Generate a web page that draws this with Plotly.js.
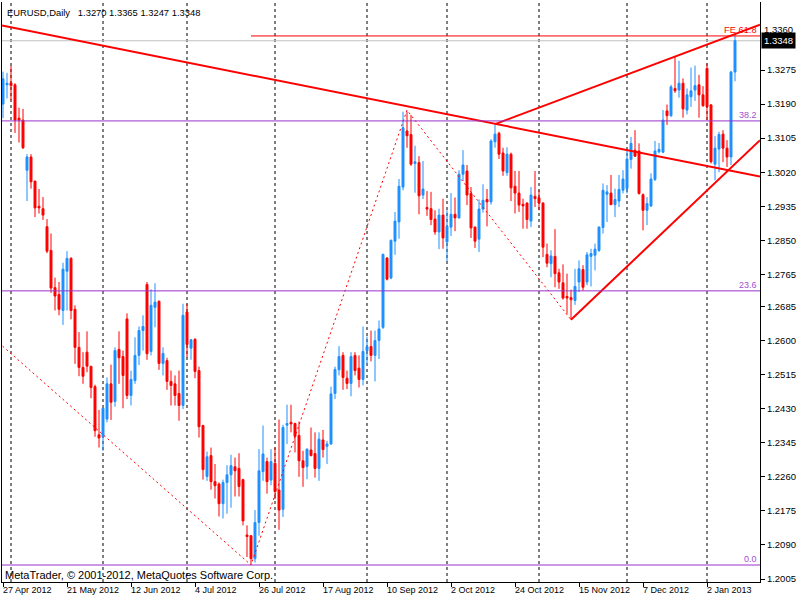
<!DOCTYPE html>
<html>
<head>
<meta charset="utf-8">
<script src="https://cdn.plot.ly/plotly-3.0.1.min.js"></script>
<style>html,body{margin:0;padding:0;background:#fff;}#chart{width:800px;height:600px;}</style>
</head>
<body>
<div id="chart"></div>
<script>
// ---- Data (EURUSD Daily) ----
const opens = [1.3190,1.3238,1.3243,1.3238,1.3155,1.3150,1.3025,1.3058,1.2998,1.2935,1.2929,1.2884,1.2825,1.2732,1.2715,1.2675,1.2773,1.2805,1.2678,1.2583,1.2533,1.2571,1.2536,1.2485,1.2365,1.2360,1.2404,1.2492,1.2448,1.2578,1.2560,1.2654,1.2463,1.2500,1.2563,1.2625,1.2740,1.2573,1.2683,1.2698,1.2543,1.2550,1.2498,1.2492,1.2468,1.2438,1.2671,1.2581,1.2603,1.2525,1.2388,1.2261,1.2313,1.2248,1.2242,1.2193,1.2246,1.2265,1.2285,1.2281,1.2253,1.2115,1.2113,1.2056,1.2146,1.2273,1.2298,1.2252,1.2294,1.2227,1.2179,1.2389,1.2396,1.2393,1.2363,1.2300,1.2286,1.2327,1.2318,1.2281,1.2352,1.2336,1.2342,1.2468,1.2527,1.2563,1.2506,1.2493,1.2563,1.2531,1.2503,1.2575,1.2585,1.2563,1.2600,1.2633,1.2806,1.2756,1.2848,1.2896,1.2983,1.3123,1.3114,1.3042,1.3044,1.2963,1.2932,1.2929,1.2903,1.2871,1.2913,1.2846,1.2883,1.2915,1.2906,1.3015,1.3023,1.2967,1.2883,1.2853,1.2928,1.2952,1.2946,1.3096,1.3117,1.3068,1.3019,1.3065,1.2985,1.2968,1.2940,1.2943,1.2898,1.2960,1.2956,1.2943,1.2815,1.2792,1.2810,1.2769,1.2744,1.2710,1.2707,1.2700,1.2746,1.2777,1.2746,1.2810,1.2813,1.2825,1.2882,1.2965,1.2968,1.2939,1.2948,1.2975,1.2979,1.3052,1.3075,1.3073,1.2964,1.2925,1.2936,1.3002,1.3071,1.3070,1.3173,1.3161,1.3229,1.3225,1.3242,1.3175,1.3208,1.3225,1.3238,1.3213,1.3279,1.3188,1.3040,1.3078,1.3115,1.3080,1.3058,1.3270];
const highs = [1.3271,1.3268,1.3285,1.3242,1.3181,1.3178,1.3065,1.3065,1.2998,1.2978,1.2958,1.2903,1.2867,1.2757,1.2746,1.2794,1.2823,1.2808,1.2688,1.2621,1.2571,1.2623,1.2536,1.2490,1.2427,1.2431,1.2508,1.2540,1.2583,1.2623,1.2575,1.2668,1.2525,1.2608,1.2635,1.2663,1.2746,1.2728,1.2743,1.2700,1.2583,1.2557,1.2525,1.2513,1.2525,1.2692,1.2692,1.2604,1.2606,1.2535,1.2390,1.2323,1.2333,1.2292,1.2246,1.2253,1.2289,1.2315,1.2308,1.2319,1.2255,1.2139,1.2115,1.2177,1.2329,1.2388,1.2308,1.2329,1.2333,1.2403,1.2390,1.2440,1.2440,1.2395,1.2398,1.2325,1.2331,1.2383,1.2371,1.2371,1.2377,1.2350,1.2485,1.2535,1.2586,1.2571,1.2525,1.2571,1.2571,1.2563,1.2635,1.2610,1.2625,1.2625,1.2650,1.2817,1.2808,1.2852,1.2921,1.3003,1.3171,1.3171,1.3163,1.3086,1.3060,1.3048,1.2973,1.2971,1.2925,1.2929,1.2954,1.2925,1.2968,1.2957,1.3025,1.3075,1.3038,1.2983,1.2885,1.2952,1.2990,1.2978,1.3102,1.3138,1.3121,1.3081,1.3082,1.3069,1.3023,1.3023,1.2954,1.2945,1.2983,1.3023,1.2975,1.2945,1.2842,1.2825,1.2878,1.2779,1.2790,1.2767,1.2727,1.2779,1.2800,1.2788,1.2821,1.2829,1.2842,1.2885,1.2992,1.2988,1.3013,1.2979,1.3013,1.3025,1.3073,1.3108,1.3125,1.3092,1.2967,1.2958,1.3017,1.3098,1.3093,1.3175,1.3189,1.3238,1.3308,1.3298,1.3254,1.3229,1.3281,1.3286,1.3263,1.3235,1.3292,1.3190,1.3110,1.3121,1.3125,1.3100,1.3273,1.3365];
const lows = [1.3155,1.3204,1.3200,1.3118,1.3094,1.3078,1.2948,1.2979,1.2908,1.2917,1.2901,1.2818,1.2719,1.2675,1.2663,1.2639,1.2675,1.2653,1.2542,1.2511,1.2492,1.2521,1.2456,1.2360,1.2333,1.2325,1.2396,1.2402,1.2435,1.2492,1.2431,1.2454,1.2438,1.2492,1.2539,1.2575,1.2552,1.2563,1.2633,1.2527,1.2513,1.2477,1.2438,1.2438,1.2400,1.2429,1.2558,1.2552,1.2506,1.2358,1.2253,1.2250,1.2228,1.2206,1.2161,1.2156,1.2168,1.2183,1.2211,1.2211,1.2139,1.2060,1.2042,1.2046,1.2113,1.2250,1.2218,1.2239,1.2204,1.2128,1.2160,1.2342,1.2371,1.2321,1.2260,1.2235,1.2254,1.2311,1.2258,1.2250,1.2308,1.2292,1.2340,1.2454,1.2513,1.2477,1.2479,1.2461,1.2513,1.2483,1.2488,1.2542,1.2548,1.2498,1.2554,1.2629,1.2750,1.2753,1.2814,1.2854,1.2975,1.3081,1.3036,1.2969,1.2915,1.2953,1.2911,1.2888,1.2864,1.2828,1.2829,1.2798,1.2861,1.2873,1.2904,1.2998,1.2938,1.2856,1.2831,1.2821,1.2919,1.2885,1.2939,1.3081,1.3053,1.3011,1.3011,1.2948,1.2917,1.2921,1.2879,1.2879,1.2883,1.2933,1.2925,1.2808,1.2783,1.2758,1.2733,1.2729,1.2702,1.2667,1.2652,1.2689,1.2721,1.2725,1.2738,1.2735,1.2775,1.2821,1.2867,1.2896,1.2938,1.2908,1.2933,1.2967,1.2967,1.3029,1.3058,1.2964,1.2875,1.2888,1.2933,1.2998,1.3067,1.3068,1.3138,1.3158,1.3218,1.3206,1.3156,1.3164,1.3183,1.3198,1.3156,1.3183,1.3150,1.3042,1.3000,1.3020,1.3045,1.3033,1.3038,1.3247];
const closes = [1.3253,1.3242,1.3236,1.3150,1.3150,1.3081,1.3058,1.2996,1.2931,1.2931,1.2913,1.2823,1.2731,1.2711,1.2678,1.2778,1.2805,1.2675,1.2583,1.2533,1.2511,1.2536,1.2483,1.2375,1.2357,1.2431,1.2492,1.2446,1.2575,1.2557,1.2513,1.2463,1.2503,1.2563,1.2625,1.2635,1.2567,1.2688,1.2696,1.2543,1.2568,1.2498,1.2488,1.2463,1.2438,1.2663,1.2590,1.2602,1.2523,1.2385,1.2278,1.2310,1.2248,1.2238,1.2193,1.2246,1.2265,1.2288,1.2275,1.2236,1.2150,1.2111,1.2056,1.2146,1.2275,1.2317,1.2248,1.2298,1.2223,1.2177,1.2383,1.2393,1.2392,1.2361,1.2300,1.2283,1.2329,1.2313,1.2281,1.2354,1.2328,1.2342,1.2467,1.2528,1.2560,1.2508,1.2493,1.2560,1.2525,1.2503,1.2573,1.2585,1.2563,1.2600,1.2629,1.2815,1.2753,1.2850,1.2898,1.2985,1.3131,1.3111,1.3040,1.3046,1.2961,1.2978,1.2928,1.2902,1.2871,1.2913,1.2856,1.2885,1.2915,1.2906,1.3015,1.3038,1.2963,1.2881,1.2848,1.2928,1.2950,1.2946,1.3098,1.3115,1.3065,1.3023,1.3065,1.2981,1.2968,1.2938,1.2936,1.2902,1.2963,1.2954,1.2943,1.2833,1.2793,1.2811,1.2767,1.2746,1.2706,1.2706,1.2702,1.2735,1.2779,1.2733,1.2814,1.2817,1.2828,1.2883,1.2975,1.2971,1.2939,1.2952,1.2977,1.3003,1.3053,1.3092,1.3060,1.2967,1.2925,1.2942,1.3003,1.3073,1.3077,1.3150,1.3161,1.3233,1.3223,1.3242,1.3178,1.3213,1.3223,1.3236,1.3213,1.3186,1.3183,1.3046,1.3080,1.3114,1.3080,1.3058,1.3270,1.3348];

const dateTickIdx = [0,16,32,48,64,80,96,112,128,144,160,176];
const dateLabels = ["27 Apr 2012","21 May 2012","12 Jun 2012","4 Jul 2012","26 Jul 2012","17 Aug 2012","10 Sep 2012","2 Oct 2012","24 Oct 2012","15 Nov 2012","7 Dec 2012","2 Jan 2013"];
const monthStartIdx = [2,25,46,68,91,111,134,156,176];
const priceTicks = [1.2005,1.2090,1.2175,1.2260,1.2345,1.2430,1.2515,1.2600,1.2685,1.2765,1.2850,1.2935,1.3020,1.3105,1.3190,1.3275];
const topPriceTick = 1.3360;   // partly hidden behind the bid box in the reference

const fibLevels = [1.3148,1.2724,1.2040];
const fibLabels = ["38.2","23.6","0.0"];
const bidPrice = 1.3348;
const feLevel = 1.3360;
const feStartIdx = 62;

const trendDownX = [-0.25,189.25], trendDownY = [1.3386,1.3009];
const trendUpHiX = [123,189.25],  trendUpHiY = [1.3140,1.3388];
const trendUpLoX = [142,189.25],  trendUpLoY = [1.2652,1.3100];
const zigzagX = [-0.1,62,101,142];
const zigzagY = [1.2586,1.2040,1.3175,1.2652];

const header = "EURUSD,Daily\u00a0\u00a0 1.3270 1.3365 1.3247 1.3348";
const footer = "MetaTrader, \u00a9 2001-2012, MetaQuotes Software Corp.";

// ---- Chart ----
const xRange = [-0.25,189.25];
const yRange = [1.19976,1.34447];
const idx = opens.map((_,i)=>i);
const FONT = "Liberation Sans, Arial, sans-serif";

const traces = [
  {type:'candlestick', x:idx, open:opens, high:highs, low:lows, close:closes,
   increasing:{line:{color:'#1E90FF',width:1},fillcolor:'#1E90FF'},
   decreasing:{line:{color:'#FF0000',width:1},fillcolor:'#FF0000'},
   whiskerwidth:0, hoverinfo:'none', showlegend:false},
  {type:'scatter', mode:'lines', x:zigzagX, y:zigzagY, line:{color:'#FF0000',width:1,dash:'2px,3px'}, hoverinfo:'none'},
  {type:'scatter', mode:'lines', x:[feStartIdx,xRange[1]], y:[feLevel,feLevel], line:{color:'#FF0000',width:1}, hoverinfo:'none'},
  {type:'scatter', mode:'lines', x:trendDownX, y:trendDownY, line:{color:'#FF0000',width:2}, hoverinfo:'none'},
  {type:'scatter', mode:'lines', x:trendUpHiX, y:trendUpHiY, line:{color:'#FF0000',width:2}, hoverinfo:'none'},
  {type:'scatter', mode:'lines', x:trendUpLoX, y:trendUpLoY, line:{color:'#FF0000',width:2}, hoverinfo:'none'}
];

const shapes = [];
monthStartIdx.forEach(v=>shapes.push({type:'line', xref:'x', yref:'paper', x0:v, x1:v, y0:0, y1:1, layer:'below', line:{color:'#000',width:1,dash:'3px,3px'}}));
shapes.push({type:'line', xref:'paper', yref:'y', x0:0, x1:1, y0:bidPrice, y1:bidPrice, layer:'below', line:{color:'#C0C0C0',width:1}});
fibLevels.forEach(v=>shapes.push({type:'line', xref:'paper', yref:'y', x0:0, x1:1, y0:v, y1:v, layer:'above', line:{color:'#9932CC',width:1}}));

const annotations = [];
dateTickIdx.forEach((v,k)=>annotations.push({x:v, xref:'x', y:0, yref:'paper', xanchor:'left', yanchor:'top', xshift:-2, yshift:-1, text:dateLabels[k], showarrow:false, font:{family:FONT,size:9,color:'#000'}}));
fibLevels.forEach((v,k)=>annotations.push({x:1, xref:'paper', y:v, yref:'y', xanchor:'right', yanchor:'middle', xshift:-1, yshift:6, text:fibLabels[k], showarrow:false, font:{family:FONT,size:9,color:'#A050D0'}}));
annotations.push({x:1, xref:'paper', y:feLevel, yref:'y', xanchor:'right', yanchor:'middle', xshift:-1, yshift:6, text:'FE 61.8', showarrow:false, font:{family:FONT,size:9.3,color:'#FF0000'}});
annotations.push({x:1, xref:'paper', y:topPriceTick, yref:'y', xanchor:'left', yanchor:'bottom', xshift:3, yshift:0, text:topPriceTick.toFixed(4), showarrow:false, borderpad:0, font:{family:FONT,size:9.5,color:'#000'}});
annotations.push({x:1, xref:'paper', y:bidPrice, yref:'y', xanchor:'left', yanchor:'middle', xshift:1, text:'1.3348', showarrow:false, bgcolor:'#000', borderpad:2, font:{family:FONT,size:9.5,color:'#FFF'}});
annotations.push({x:0, xref:'paper', y:1, yref:'paper', xanchor:'left', yanchor:'top', xshift:3, yshift:-3, text:header, showarrow:false, font:{family:FONT,size:9.4,color:'#000'}});
annotations.push({x:0, xref:'paper', y:0, yref:'paper', xanchor:'left', yanchor:'bottom', xshift:1, yshift:-1, text:footer, showarrow:false, font:{family:FONT,size:11,color:'#000'}});

const layout = {
  width:800, height:600,
  margin:{l:2,r:40,t:2,b:18,pad:0},
  paper_bgcolor:'#FFFFFF', plot_bgcolor:'#FFFFFF',
  showlegend:false, dragmode:false, hovermode:false,
  xaxis:{range:xRange, rangeslider:{visible:false}, showgrid:false, zeroline:false,
    tickmode:'array', tickvals:dateTickIdx, ticktext:dateTickIdx.map(()=>''), ticks:'outside', ticklen:4, tickcolor:'#000',
    showline:true, linecolor:'#000', linewidth:1, fixedrange:true},
  yaxis:{range:yRange, side:'right', showgrid:false, zeroline:false,
    tickmode:'array', tickvals:priceTicks, ticktext:priceTicks.map(v=>v.toFixed(4)), ticks:'outside', ticklen:4, tickcolor:'#000',
    tickfont:{family:FONT,size:9.5,color:'#000'},
    showline:true, mirror:true, linecolor:'#000', linewidth:1, fixedrange:true},
  shapes:shapes, annotations:annotations
};

Plotly.newPlot('chart', traces, layout, {staticPlot:true, displayModeBar:false});
</script>
</body>
</html>
